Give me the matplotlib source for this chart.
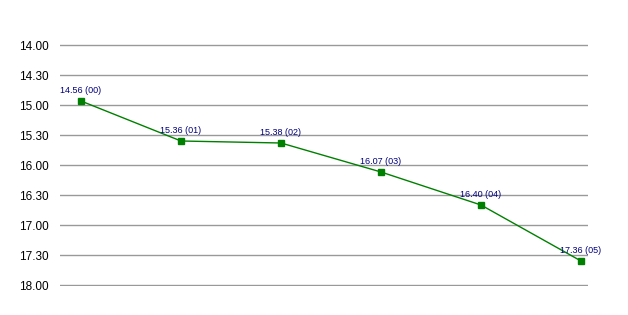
import matplotlib
matplotlib.use("Agg")
import matplotlib.pyplot as plt
from matplotlib.ticker import FixedLocator

# times read as hh.mm, chart plotted in minutes after 14.00
times = ["14.56", "15.36", "15.38", "16.07", "16.40", "17.36"]
codes = ["00", "01", "02", "03", "04", "05"]
tick_labels = ["14.00", "14.30", "15.00", "15.30", "16.00", "16.30", "17.00", "17.30", "18.00"]

def to_min(t):
    h, m = t.split(".")
    return (int(h) - 14) * 60 + int(m)

y = [to_min(t) for t in times]
x = list(range(len(times)))
ticks = [to_min(t) for t in tick_labels]

fig = plt.figure(figsize=(6.28, 3.15), dpi=100)
# 1 px per minute, one extra minute above and below so the edge lines show
ax = fig.add_axes([60/628, 1-286/315, 528/628, 242/315])

ax.plot(x, y, color="#008000", lw=1, marker="s", ms=4, zorder=3)
for xi, yi, t, c in zip(x, y, times, codes):
    ax.annotate(f"{t} ({c})", (xi, yi), xytext=(0, 4), textcoords="offset points",
                ha="center", va="bottom", fontsize=6.5, color="#000080",
                family=["Liberation Sans Narrow", "Liberation Sans", "DejaVu Sans"])

ax.set_xlim(-0.21, 5.07)
ax.set_ylim(241, -1)
ax.yaxis.set_major_locator(FixedLocator(ticks))
ax.set_yticklabels(tick_labels, family=["Liberation Sans Narrow", "Liberation Sans", "DejaVu Sans"], fontsize=8.5)
ax.set_xticks([])
ax.grid(axis="y", color="#999999", lw=1)
ax.tick_params(axis="y", length=0, pad=8)
for s in ax.spines.values():
    s.set_visible(False)

fig.savefig("out.png", dpi=100)
